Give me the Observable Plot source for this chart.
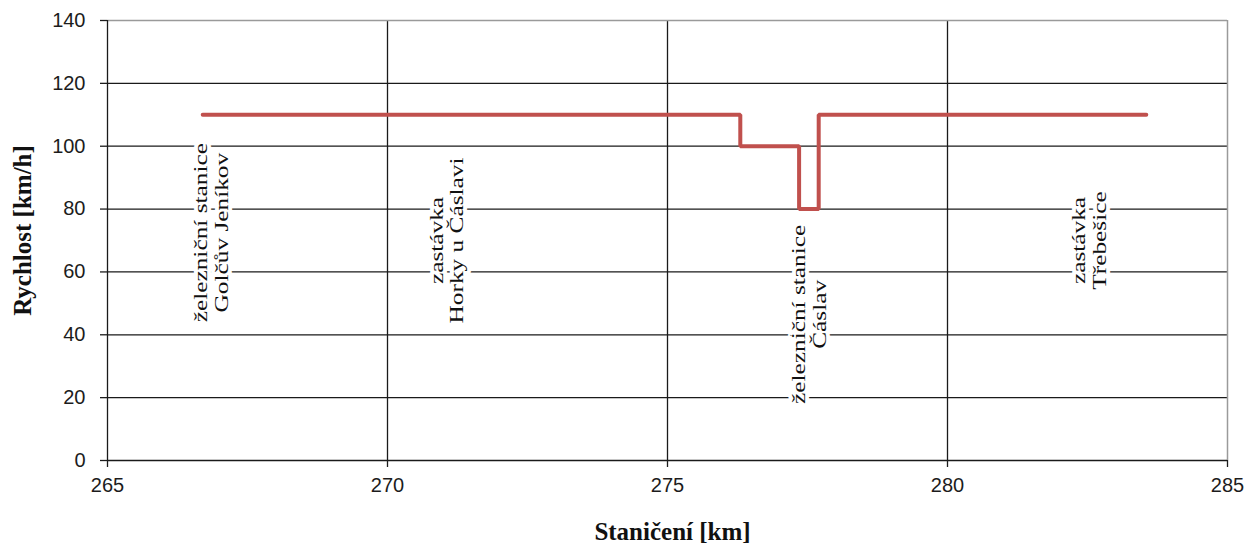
<!DOCTYPE html>
<html>
<head>
<meta charset="utf-8">
<script src="https://cdn.jsdelivr.net/npm/d3@7"></script>
<script src="https://cdn.jsdelivr.net/npm/@observablehq/plot@0.6"></script>
<style>
  html, body { margin: 0; padding: 0; background: #fff; }
  #chart { width: 1244px; height: 545px; }
</style>
</head>
<body>
<div id="chart"></div>
<script>
// ---- data ----
const stationKm = [266.7, 276.3, 277.35, 277.7, 283.55];   // km where speed segment begins / ends
const speedKmh  = [110, 100, 80, 110, 110];                // speed from that point on
const labelKm    = [266.85, 271.05, 277.52, 282.52];
const labelSpeed = [72.5, 70, 46.5, 70];
const labelLine1 = ["železniční stanice", "zastávka", "železniční stanice", "zastávka"];
const labelLine2 = ["Golčův Jeníkov", "Horky u Čáslavi", "Čáslav", "Třebešice"];
const xTicks = [265, 270, 275, 280, 285];
const yTicks = [0, 20, 40, 60, 80, 100, 120, 140];
const xTitle = "Staničení [km]";
const yTitle = "Rychlost [km/h]";

const profile = stationKm.map((k, i) => ({km: k, v: speedKmh[i]}));
const labels = labelKm.map((k, i) => ({km: k, v: labelSpeed[i], text: labelLine1[i] + "\n" + labelLine2[i]}));

const grid = "#1a1a1a";
const border = "#9a9a9a";

const svg = Plot.plot({
  width: 1244,
  height: 545,
  marginLeft: 107,
  marginRight: 17,
  marginTop: 20,
  marginBottom: 85,
  x: {domain: [265, 285]},
  y: {domain: [0, 140]},
  style: {background: "#fff", color: "#1c1c1c"},
  marks: [
    Plot.ruleY(yTicks.filter(t => t > 0 && t < 140), {stroke: grid, strokeWidth: 1.3}),
    Plot.ruleX(xTicks.filter(t => t > 265 && t < 285), {stroke: grid, strokeWidth: 1.3}),
    Plot.ruleY([140], {stroke: border, strokeWidth: 1.5}),
    Plot.ruleX([285], {stroke: border, strokeWidth: 1.5}),
    Plot.ruleX([265], {stroke: grid, strokeWidth: 1.3}),
    Plot.ruleY([0], {stroke: grid, strokeWidth: 1.3}),
    Plot.axisY(yTicks, {tickSize: 7, tickPadding: 15, fontSize: 20, fontFamily: "Liberation Sans, Arial, sans-serif", label: null, strokeWidth: 1.3}),
    Plot.axisX(xTicks, {tickSize: 7, tickPadding: 10, fontSize: 20, fontFamily: "Liberation Sans, Arial, sans-serif", label: null, strokeWidth: 1.3}),
    Plot.text(labels, {
      x: "km", y: "v", text: "text", rotate: -90,
      fontSize: 18.5, lineHeight: 1.13,
      fontFamily: "Liberation Serif, Times New Roman, serif",
      fill: "#111", stroke: "#fff", strokeWidth: 8,
      textAnchor: "middle", lineAnchor: "middle"
    }),
    Plot.line(profile, {x: "km", y: "v", curve: "step-after", stroke: "#C0504D", strokeWidth: 4, strokeLinejoin: "miter", strokeLinecap: "round"}),
    Plot.text([yTitle], {frameAnchor: "left", dx: -85, dy: -10, rotate: -90, textAnchor: "middle", lineAnchor: "middle", fontSize: 25, fontWeight: "bold", fontFamily: "Liberation Serif, Times New Roman, serif", fill: "#111"}),
    Plot.text([xTitle], {frameAnchor: "bottom", dx: 5, dy: 71, textAnchor: "middle", lineAnchor: "middle", fontSize: 25, fontWeight: "bold", fontFamily: "Liberation Serif, Times New Roman, serif", fill: "#111"})
  ]
});

// stretch station labels along their length (as in the reference)
svg.querySelectorAll("text").forEach(t => {
  const s = t.textContent;
  if (labelLine1.some(l => s.includes(l))) {
    let tr = t.getAttribute("transform");
    let node = t;
    if (!tr || !tr.includes("rotate")) {
      // transform may sit on the parent group
      node = t.parentNode;
      tr = node.getAttribute("transform") || "";
    }
    if (tr.includes("rotate")) node.setAttribute("transform", tr + " scale(1.37,1)");
  }
});

document.getElementById("chart").appendChild(svg);
</script>
</body>
</html>
